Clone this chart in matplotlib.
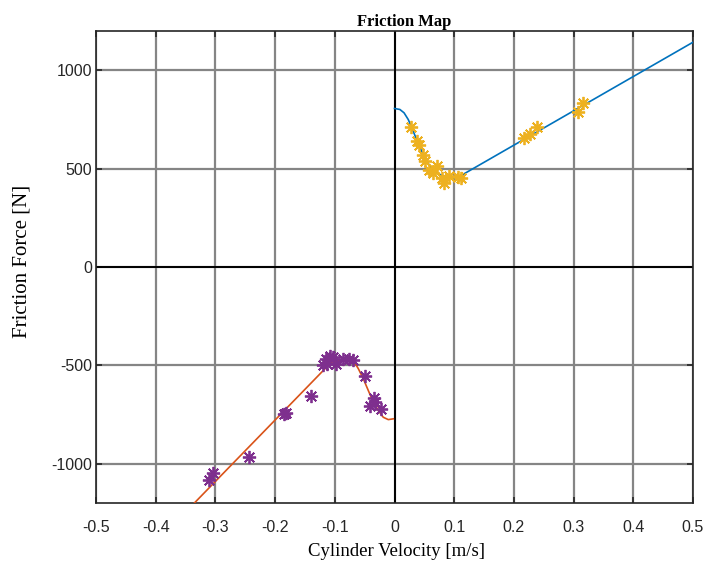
import matplotlib
matplotlib.use("Agg")
import matplotlib.pyplot as plt

# Stribeck friction model curves (velocity in m/s, force in N)
pos_model_v = [0.0, 0.009, 0.016, 0.023, 0.029, 0.037, 0.0455, 0.054, 0.062, 0.073, 0.087, 0.104, 0.5]
pos_model_F = [806, 801, 784, 750, 708, 648, 588, 537, 503, 474, 458, 452, 1143]

neg_model_v = [-0.34, -0.108, -0.1025, -0.09, -0.075, -0.066, -0.0606, -0.0523, -0.0439,
               -0.0355, -0.0271, -0.0188, -0.0104, -0.002]
neg_model_F = [-1215, -491, -480, -474, -474, -490, -517, -568, -628, -687, -730, -764, -776, -772]

# Measured friction points
pos_meas_v = [0.027, 0.037, 0.0416, 0.048, 0.051, 0.058, 0.071, 0.065, 0.079, 0.083, 0.092,
              0.107, 0.112, 0.217, 0.227, 0.238, 0.308, 0.316]
pos_meas_F = [713, 639, 622, 571, 537, 495, 515, 478, 452, 427, 464, 457, 455, 656, 677, 711, 789, 832]

neg_meas_v = [-0.310, -0.3035, -0.243, -0.1846, -0.181, -0.140, -0.120, -0.1125, -0.115, -0.108,
              -0.1025, -0.098, -0.0857, -0.077, -0.069, -0.049, -0.034, -0.041, -0.0327, -0.023]
neg_meas_F = [-1083, -1049, -964, -747, -742, -658, -497, -491, -466, -452, -458, -491, -469,
              -466, -474, -555, -667, -708, -687, -724]

x_ticks = [-0.5, -0.4, -0.3, -0.2, -0.1, 0, 0.1, 0.2, 0.3, 0.4, 0.5]
x_tick_labels = ["-0.5", "-0.4", "-0.3", "-0.2", "-0.1", "0", "0.1", "0.2", "0.3", "0.4", "0.5"]
y_ticks = [-1000, -500, 0, 500, 1000]
y_tick_labels = ["-1000", "-500", "0", "500", "1000"]

fig = plt.figure(figsize=(7.15, 5.65), dpi=100)
ax = fig.add_axes([96 / 715, 1 - 503 / 565, 597 / 715, 472 / 565])

ax.set_xlim(-0.5, 0.5)
ax.set_ylim(-1200, 1200)
ax.set_xticks(x_ticks)
ax.set_xticklabels(x_tick_labels)
ax.set_yticks(y_ticks)
ax.set_yticklabels(y_tick_labels)

ax.grid(True, color="#858585", linewidth=1.6)
ax.set_axisbelow(True)
ax.axhline(0, color="black", linewidth=1.4, zorder=1.5)
ax.axvline(0, color="black", linewidth=1.4, zorder=1.5)

for s in ax.spines.values():
    s.set_color("#262626")
    s.set_linewidth(1.2)

ax.tick_params(direction="in", length=4.5, width=1.2, color="#262626",
               top=True, right=True, labelsize=11.5)
ax.tick_params(axis="x", pad=12)
ax.tick_params(axis="y", pad=3)
for lbl in ax.get_xticklabels() + ax.get_yticklabels():
    lbl.set_fontfamily("Liberation Sans")
    lbl.set_color("#262626")

ax.plot(pos_model_v, pos_model_F, color="#0072BD", linewidth=1.2, zorder=3)
ax.plot(neg_model_v, neg_model_F, color="#D95319", linewidth=1.2, zorder=3)

star = (8, 2, 0)
ax.plot(pos_meas_v, pos_meas_F, linestyle="none", marker=star, markersize=9.5,
        markeredgewidth=1.3, color="#EDB120", zorder=4)
ax.plot(neg_meas_v, neg_meas_F, linestyle="none", marker=star, markersize=9.5,
        markeredgewidth=1.3, color="#7E2F8E", zorder=4)

fig.text(404 / 715, 1 - 26 / 565, "Friction Map", ha="center", va="baseline",
         family="Liberation Serif", fontweight="bold", fontsize=12)
fig.text(396 / 715, 1 - 551 / 565, "Cylinder Velocity [m/s]", ha="center", va="center",
         family="Liberation Serif", fontsize=13.5)
fig.text(22 / 715, 1 - 261 / 565, "Friction Force [N]", ha="center", va="center",
         rotation=90, family="Liberation Serif", fontsize=15)

fig.savefig("out.png", dpi=100)
